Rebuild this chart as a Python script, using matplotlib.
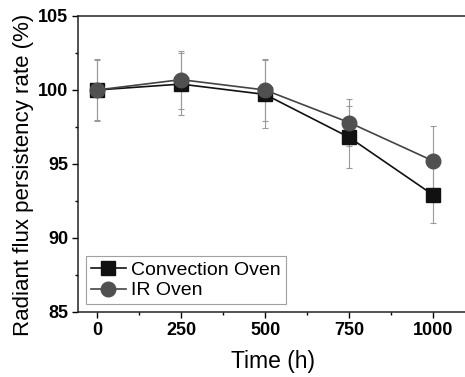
import matplotlib
matplotlib.use("Agg")
import matplotlib.pyplot as plt
from matplotlib.ticker import MultipleLocator

time_h = [0, 250, 500, 750, 1000]
conv = [100.0, 100.4, 99.7, 96.8, 92.9]
conv_err = [2.1, 2.1, 2.3, 2.1, 1.9]
ir = [100.0, 100.7, 100.0, 97.8, 95.2]
ir_err = [2.0, 1.95, 2.1, 1.6, 2.35]
xticks = [0, 250, 500, 750, 1000]
yticks = [85, 90, 95, 100, 105]

plt.rcParams['font.family'] = ['Liberation Sans', 'DejaVu Sans']
fig = plt.figure(figsize=(4.65, 3.77), dpi=100)
ax = fig.add_axes([78/465, 65/377, 389/465, 296/377])

ax.errorbar(time_h, conv, yerr=conv_err, fmt='none', ecolor='#9a9a9a', elinewidth=0.8,
            capsize=2.5, capthick=0.8, zorder=1)
ax.errorbar(time_h, ir, yerr=ir_err, fmt='none', ecolor='#9a9a9a', elinewidth=0.8,
            capsize=2.5, capthick=0.8, zorder=1)
ax.plot(time_h, conv, color='#111111', lw=1.2, marker='s', ms=10, mfc='#111111',
        mec='#111111', label='Convection Oven', zorder=3)
ax.plot(time_h, ir, color='#444444', lw=1.2, marker='o', ms=10.5, mfc='#505050',
        mec='#505050', label='IR Oven', zorder=3)

ax.set_xlim(-56, 1100)
ax.set_ylim(85, 105)
ax.set_xticks(xticks)
ax.set_yticks(yticks)
ax.xaxis.set_minor_locator(MultipleLocator(125))
ax.yaxis.set_minor_locator(MultipleLocator(2.5))
ax.tick_params(axis='both', which='major', direction='out', length=4, width=1,
               labelsize=13, pad=3)
ax.tick_params(axis='both', which='minor', direction='out', length=2.5, width=1)
for lab in ax.get_xticklabels() + ax.get_yticklabels():
    lab.set_fontweight('bold')
ax.spines['right'].set_visible(False)
for s in ['left', 'bottom', 'top']:
    ax.spines[s].set_linewidth(1.1)
    ax.spines[s].set_color('#222222')

ax.set_xlabel('Time (h)', fontsize=16.5, labelpad=8)
ax.set_ylabel('Radiant flux persistency rate (%)', fontsize=16)
ax.yaxis.set_label_coords(-0.114, 0.462)

leg = ax.legend(loc='lower left', fontsize=14, frameon=True, fancybox=False,
                edgecolor='#888888', borderpad=0.25, handlelength=1.8,
                handletextpad=0.3, labelspacing=0.15, borderaxespad=0.4)
leg.get_frame().set_linewidth(0.8)

fig.savefig('out.png', dpi=100)
